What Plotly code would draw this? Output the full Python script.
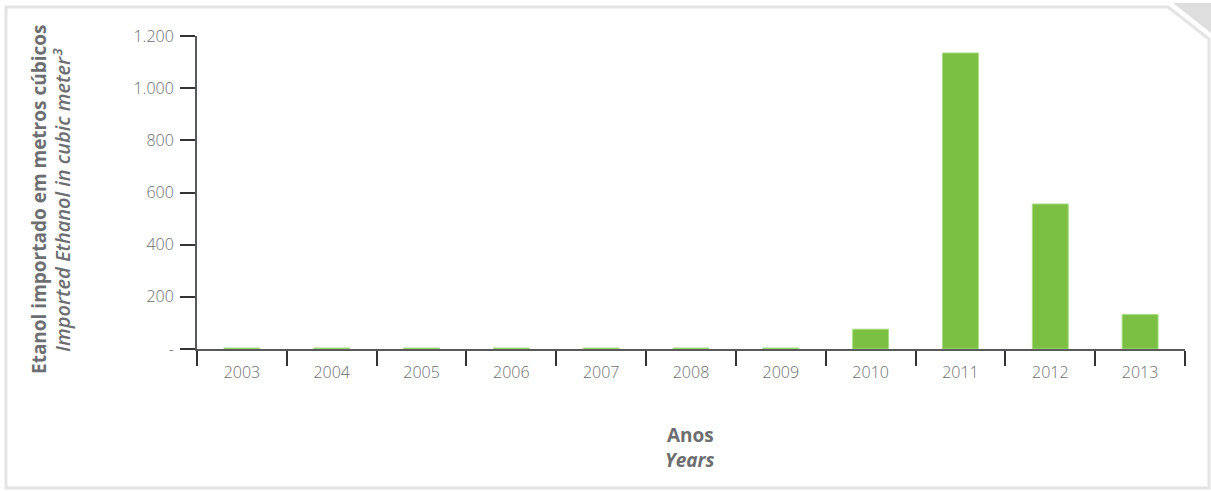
import plotly.graph_objects as go

years = ["2003", "2004", "2005", "2006", "2007", "2008", "2009", "2010", "2011", "2012", "2013"]
volumes = [4, 4, 4, 4, 4, 4, 4, 76, 1135, 556, 132]
ytick_vals = [0, 200, 400, 600, 800, 1000, 1200]
ytick_text = ["-", "200", "400", "600", "800", "1.000", "1.200"]

W, H = 1211, 491
L, R, T, B = 197, 26, 36, 142
pw, ph = W - L - R, H - T - B

def px(x, y):
    return (x - L) / pw, (H - B - y) / ph

def path(points, close=True):
    s = ""
    for i, (x, y) in enumerate(points):
        a, b = px(x, y)
        s += ("M" if i == 0 else "L") + f"{a:.5f},{b:.5f} "
    if close:
        s += "Z"
    return s

GRAY = "#6d6e71"
FONT = "Open Sans"

fig = go.Figure(go.Bar(
    x=years, y=volumes,
    marker=dict(color="#7bc043", line=dict(color="#a9dc84", width=1)),
))

shapes = [
    dict(type="path", xref="paper", yref="paper", layer="below",
         path=path([(6, 7), (1168, 7), (1209, 39), (1209, 488), (6, 488)]),
         line=dict(color="#e4e4e4", width=3), fillcolor="rgba(0,0,0,0)"),
    dict(type="path", xref="paper", yref="paper", layer="below",
         path=path([(1173, 3), (1211, 3), (1211, 33)]),
         line=dict(width=0), fillcolor="#dedede"),
]

annotations = [
    dict(xref="paper", yref="paper", x=px(39, 200)[0], y=px(39, 200)[1],
         text="<b>Etanol importado em metros cúbicos</b>", textangle=-90,
         showarrow=False, font=dict(family=FONT, size=19, color=GRAY),
         xanchor="center", yanchor="middle"),
    dict(xref="paper", yref="paper", x=px(63, 200)[0], y=px(63, 200)[1],
         text="<i>Imported Ethanol in cubic meter³</i>", textangle=-90,
         showarrow=False, font=dict(family=FONT, size=20, color=GRAY, weight=600),
         xanchor="center", yanchor="middle"),
    dict(xref="paper", yref="paper", x=px(690, 435)[0], y=px(690, 435)[1],
         text="<b>Anos</b>", showarrow=False,
         font=dict(family=FONT, size=19, color=GRAY),
         xanchor="center", yanchor="middle"),
    dict(xref="paper", yref="paper", x=px(690, 460)[0], y=px(690, 460)[1],
         text="<b><i>Years</i></b>", showarrow=False,
         font=dict(family=FONT, size=19, color=GRAY),
         xanchor="center", yanchor="middle"),
]

fig.update_layout(
    width=W, height=H,
    margin=dict(l=L, r=R, t=T, b=B, pad=0),
    plot_bgcolor="white", paper_bgcolor="white",
    bargap=0.6,
    showlegend=False,
    shapes=shapes,
    annotations=annotations,
    font=dict(family=FONT, color=GRAY),
)
fig.update_xaxes(
    type="category",
    showline=True, linecolor="#58595b", linewidth=2,
    ticks="outside", tickson="boundaries", ticklen=15, tickcolor="#333333", tickwidth=1.5,
    tickfont=dict(family=FONT, size=16, color=GRAY, weight=300),
    ticklabelstandoff=8,
    showgrid=False, zeroline=False,
    mirror=False,
)
fig.update_yaxes(
    range=[0, 1200],
    tickvals=ytick_vals, ticktext=ytick_text,
    showline=True, linecolor="#58595b", linewidth=2,
    ticks="outside", ticklen=15, tickcolor="#333333", tickwidth=1.5,
    tickfont=dict(family=FONT, size=16, color=GRAY, weight=300),
    ticklabelstandoff=3,
    showgrid=False, zeroline=False,
)

fig.write_html("out.html", config={"displayModeBar": False},
               post_script="document.body.style.margin='0';")
